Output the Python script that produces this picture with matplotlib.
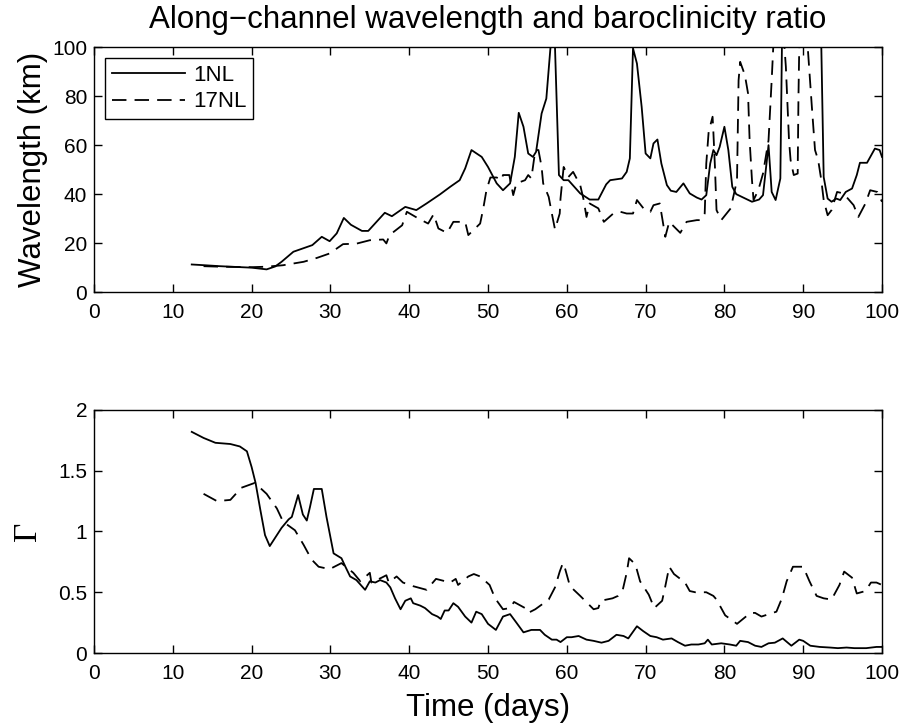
import matplotlib
matplotlib.use("Agg")
import matplotlib.pyplot as plt
import numpy as np

plt.rcParams["font.family"] = ["Liberation Sans", "DejaVu Sans"]

# wavelength (km), run 1NL
t_w1 = [12.4, 14, 16, 18, 20, 21.9, 23, 23.8, 25.3, 26.1, 27.7, 28.9, 29.9, 30.8, 31.7, 32.6,
        34.0, 34.8, 36.9, 37.8, 39.5, 40.9, 42.2, 43.9, 45.2, 46.4, 47.1, 47.9, 49.2, 50.0,
        51.1, 51.9, 52.8, 53.4, 53.9, 54.5, 55.1, 55.7, 56.1, 56.8, 57.4, 57.9, 58.2, 58.5,
        59.0, 59.6, 60.2, 61.7, 62.9, 64.0, 65.0, 65.5, 67.0, 67.6, 68.0, 68.4, 68.9, 69.5,
        70.0, 70.6, 71.0, 71.5, 72.0, 72.7, 73.2, 73.9, 74.8, 75.6, 76.5, 77.1, 77.7, 78.2,
        78.6, 79.0, 79.4, 80.0, 80.5, 81.0, 81.5, 82.4, 83.5, 84.4, 84.9, 85.6, 86.0, 86.5,
        87.1, 87.3, 88.0, 90.0, 92.0, 92.3, 92.6, 93.1, 93.6, 94.2, 94.7, 95.4, 96.2, 96.8,
        97.2, 98.1, 99.1, 99.7, 100]
w1 = [11.3, 11, 10.6, 10.3, 10, 9.3, 10.5, 12.4, 16.5, 17.4, 19.2, 22.6, 20.8, 24, 30.3, 27.5,
      25, 25, 32.4, 31, 34.8, 33.5, 36.2, 39.9, 43, 45.7, 50.5, 58, 55.2, 51.1,
      44.4, 41.6, 44.4, 55.2, 73.2, 67.5, 56.6, 55.2, 57.3, 72.9, 79, 98.8, 110, 100,
      47.8, 45.7, 45.7, 40.3, 37.8, 37.8, 44, 45.7, 46.4, 49.1, 54.6, 99.5, 93.3, 75.6,
      56.6, 54.6, 60.7, 62.3, 52.5, 43.7, 41.4, 40.9, 44.4, 40.3, 38.6, 37.8, 39.6, 52.5,
      58, 55.9, 59.3, 67.5, 58, 43, 40, 38.6, 36.9, 37.8, 39.6, 60, 40.9, 37.6,
      46.4, 100, 130, 140, 130, 100, 47, 38.2, 36.9, 38.2, 37.6, 40.9, 42.3, 47.8,
      52.8, 52.8, 58.6, 58, 55.2]

# wavelength (km), run 17NL
t_w17 = [13.9, 16, 18, 20, 21.9, 24, 26.6, 28.3, 29.9, 31.6, 33.3, 35.0, 36.7, 37.1, 37.5,
         39.1, 39.7, 41.2, 42.4, 43.1, 43.7, 44.8, 45.6, 47.1, 47.5, 49.0, 49.4, 49.8, 50.3,
         51.1, 51.7, 51.9, 52.7, 53.2, 53.6, 54.7, 55.1, 55.5, 56.0, 56.4, 56.8, 57.0, 57.7,
         58.1, 58.5, 59.1, 59.2, 59.6, 60.2, 60.8, 61.7, 62.1, 62.5, 62.9, 64.0, 64.7, 65.9,
         66.8, 67.6, 68.4, 68.9, 69.9, 70.6, 71.0, 71.8, 72.5, 73.0, 74.4, 75.2, 76.5, 77.0,
         77.5, 77.7, 78.0, 78.5, 78.6, 78.8, 79.0, 79.6, 80.8, 81.6, 81.8, 82.0, 82.6, 83.0,
         83.2, 83.5, 83.7, 84.3, 84.9, 85.6, 86.0, 86.2, 86.6, 87.4, 87.8, 88.2, 88.4, 88.8,
         89.3, 89.4, 89.5, 90.0, 90.6, 91.1, 91.5, 91.9, 92.3, 92.6, 93.1, 93.6, 94.3, 95.1,
         96.4, 97.0, 97.9, 98.5, 99.4, 100]
w17 = [10.6, 10.4, 10.3, 10.2, 10.4, 11, 12.4, 14, 15.8, 19.6, 19.8, 21.2, 21.5, 19.9, 23.3,
       27.3, 32.8, 30, 28, 31.8, 26, 24.2, 28.7, 28.7, 23.3, 28, 34.2, 41.6, 46.8,
       46.8, 45.7, 47.8, 47.8, 39.6, 44.4, 45.7, 47.8, 46.4, 58, 58, 51.1, 44.4, 38.9,
       32.1, 25.6, 32.1, 38.2, 51.1, 47, 49.1, 43.7, 38.2, 30.7, 36.2, 34.2, 28.7, 32.1,
       32.8, 32.1, 32.1, 37.6, 33.5, 32.8, 35.5, 36.2, 22.6, 28.7, 24.2, 28.7, 29.4, 29.4,
       32.1, 52.5, 65.4, 71.6, 65.4, 51.1, 33.5, 29.4, 34.2, 45.7, 86.5, 94, 88.6, 81.1,
       62, 45.7, 37.6, 41.6, 48.4, 62, 86.5, 100, 115, 110, 92, 62, 53.9, 47.8,
       48.4, 80, 100, 108, 98.8, 75.6, 58, 53.9, 45.7, 37.6, 31.4, 33.5, 40.9, 40.3,
       35.5, 30.7, 36.2, 41.6, 40.9, 36.9]

# baroclinicity ratio Gamma, run 1NL
t_g1 = [12.4, 13.9, 15.4, 17.3, 18.5, 19.4, 20.0, 20.5, 21.1, 21.7, 22.3, 23.8, 24.7, 25.1,
        25.9, 26.5, 27.0, 27.4, 27.9, 28.9, 29.5, 30.4, 31.4, 31.9, 32.5, 33.3, 34.4, 35.0,
        35.7, 36.3, 37.1, 37.6, 38.2, 38.9, 39.5, 40.2, 40.5, 41.4, 42.0, 42.9, 43.6, 44.0,
        44.5, 45.0, 45.6, 46.2, 47.1, 47.9, 48.5, 49.2, 50.0, 51.0, 51.9, 52.8, 53.6, 54.5,
        55.5, 56.6, 57.2, 58.1, 58.7, 59.2, 60.0, 60.6, 61.5, 62.5, 63.4, 64.4, 65.3, 66.3,
        67.2, 67.8, 68.9, 69.7, 70.6, 71.4, 72.2, 73.3, 74.1, 75.0, 75.8, 76.7, 77.5, 77.9,
        78.4, 79.6, 80.7, 81.5, 82.0, 83.0, 83.9, 84.7, 85.6, 86.4, 87.4, 88.5, 89.5, 90.0,
        90.9, 92.1, 93.4, 94.4, 95.5, 96.5, 98.0, 99.3, 100]
g1 = [1.82, 1.77, 1.73, 1.72, 1.70, 1.66, 1.53, 1.40, 1.18, 0.97, 0.88, 1.03, 1.10, 1.12,
      1.30, 1.14, 1.09, 1.20, 1.35, 1.35, 1.12, 0.82, 0.78, 0.71, 0.63, 0.60, 0.52, 0.59,
      0.58, 0.60, 0.58, 0.54, 0.45, 0.36, 0.43, 0.45, 0.41, 0.39, 0.37, 0.32, 0.30, 0.28,
      0.35, 0.35, 0.41, 0.38, 0.30, 0.25, 0.34, 0.32, 0.24, 0.19, 0.30, 0.32, 0.25, 0.17,
      0.19, 0.19, 0.15, 0.11, 0.11, 0.09, 0.13, 0.13, 0.14, 0.11, 0.10, 0.085, 0.10, 0.15,
      0.14, 0.12, 0.22, 0.18, 0.14, 0.13, 0.11, 0.12, 0.09, 0.06, 0.07, 0.07, 0.08, 0.11,
      0.07, 0.08, 0.07, 0.06, 0.10, 0.09, 0.06, 0.05, 0.08, 0.085, 0.12, 0.06, 0.11, 0.10,
      0.06, 0.05, 0.045, 0.04, 0.045, 0.04, 0.04, 0.05, 0.05]

# baroclinicity ratio Gamma, run 17NL
t_g17 = [13.9, 15.6, 17.3, 18.7, 20.4, 21.9, 23.2, 24.0, 25.5, 26.6, 27.6, 28.5, 29.9, 31.4,
         32.9, 33.8, 35.0, 35.2, 36.5, 37.1, 37.4, 38.4, 39.2, 40.5, 42.2, 43.4, 45.2, 45.9,
         46.2, 47.5, 48.2, 49.0, 50.2, 50.9, 51.9, 52.8, 53.3, 54.7, 55.1, 56.0, 57.7, 58.5,
         59.1, 59.5, 59.8, 60.4, 61.7, 63.4, 64.0, 64.3, 65.8, 66.5, 67.1, 67.6, 67.9, 68.7,
         69.3, 70.4, 71.1, 72.1, 72.5, 73.0, 73.6, 75.0, 75.6, 76.3, 77.7, 78.6, 79.0, 80.1,
         81.6, 83.3, 83.9, 84.7, 86.6, 87.3, 87.9, 88.7, 90.0, 90.8, 91.7, 92.6, 93.6, 94.6,
         95.2, 96.2, 96.8, 97.9, 98.6, 99.3, 100]
g17 = [1.31, 1.25, 1.26, 1.36, 1.40, 1.31, 1.19, 1.08, 1.01, 0.89, 0.77, 0.71, 0.69, 0.74,
       0.66, 0.59, 0.66, 0.58, 0.62, 0.64, 0.58, 0.63, 0.58, 0.55, 0.52, 0.61, 0.58, 0.61,
       0.56, 0.63, 0.65, 0.63, 0.56, 0.45, 0.36, 0.37, 0.42, 0.37, 0.33, 0.36, 0.44, 0.54,
       0.67, 0.74, 0.69, 0.55, 0.47, 0.36, 0.37, 0.43, 0.45, 0.47, 0.52, 0.66, 0.78, 0.73,
       0.59, 0.48, 0.37, 0.43, 0.55, 0.71, 0.65, 0.58, 0.51, 0.50, 0.50, 0.47, 0.44, 0.31,
       0.24, 0.33, 0.33, 0.30, 0.34, 0.45, 0.59, 0.71, 0.71, 0.59, 0.47, 0.45, 0.44, 0.56,
       0.67, 0.62, 0.49, 0.51, 0.58, 0.58, 0.56]

labels = ["1NL", "17NL"]
dash = (0, (8, 4.5))
lw = 1.3

fig = plt.figure(figsize=(9.06, 7.25), dpi=100)
ax1 = fig.add_axes([0.1038, 0.597, 0.8697, 0.338])
ax2 = fig.add_axes([0.1038, 0.0993, 0.8697, 0.3352])

ax1.plot(t_w1, w1, color="k", lw=lw, label=labels[0])
ax1.plot(t_w17, w17, color="k", lw=lw, linestyle=dash, label=labels[1])
ax1.set_ylim(0, 100)
ax1.set_yticks(np.arange(0, 101, 20))
ax1.set_ylabel("Wavelength (km)", fontsize=22.5)
ax1.yaxis.set_label_coords(-0.059, 0.5)
ax1.set_title("Along\u2212channel wavelength and baroclinicity ratio", fontsize=22.5, pad=14)
leg = ax1.legend(loc="upper left", fontsize=16, frameon=True, fancybox=False,
                 edgecolor="k", framealpha=1, handlelength=3.3, handletextpad=0.35,
                 borderaxespad=0.5, labelspacing=0.25, borderpad=0.3)
leg.get_frame().set_linewidth(1.0)

ax2.plot(t_g1, g1, color="k", lw=lw)
ax2.plot(t_g17, g17, color="k", lw=lw, linestyle=dash)
ax2.set_ylim(0, 2)
ax2.set_yticks([0, 0.5, 1, 1.5, 2])
ax2.set_yticklabels(["0", "0.5", "1", "1.5", "2"])
ax2.set_ylabel("\u0393", fontsize=24, family=["Liberation Serif", "DejaVu Serif"])
ax2.yaxis.set_label_coords(-0.065, 0.5)
ax2.set_xlabel("Time (days)", fontsize=22.5, labelpad=7)

for ax in (ax1, ax2):
    ax.set_xlim(0, 100)
    ax.set_xticks(np.arange(0, 101, 10))
    ax.tick_params(direction="in", top=True, right=True, length=6, width=1,
                   labelsize=15, pad=5)
    ax.tick_params(axis="x", pad=8)
    for s in ax.spines.values():
        s.set_linewidth(1.0)

fig.savefig("out.png", dpi=100)
